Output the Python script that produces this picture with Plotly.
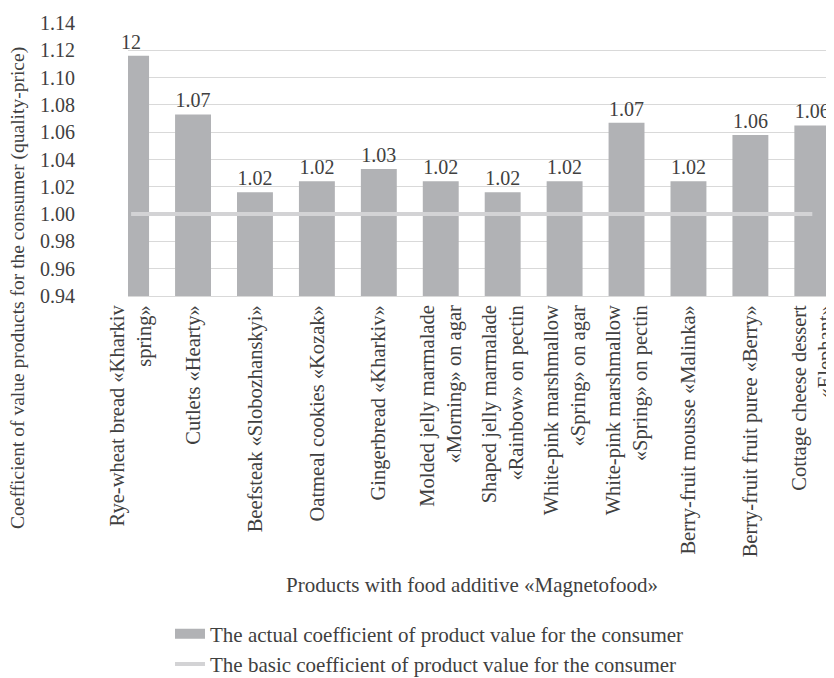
import plotly.graph_objects as go

categories = [
    "Rye-wheat bread «Kharkiv<br>spring»",
    "Cutlets «Hearty»",
    "Beefsteak «Slobozhanskyi»",
    "Oatmeal cookies «Kozak»",
    "Gingerbread «Kharkiv»",
    "Molded jelly marmalade<br>«Morning» on agar",
    "Shaped jelly marmalade<br>«Rainbow» on pectin",
    "White-pink marshmallow<br>«Spring» on agar",
    "White-pink marshmallow<br>«Spring» on pectin",
    "Berry-fruit mousse «Malinka»",
    "Berry-fruit fruit puree «Berry»",
    "Cottage cheese dessert<br>«Elephant»",
]
actual_values = [1.116, 1.073, 1.016, 1.024, 1.033, 1.024, 1.016, 1.024, 1.067, 1.024, 1.058, 1.065]
value_labels = ["12", "1.07", "1.02", "1.02", "1.03", "1.02", "1.02", "1.02", "1.07", "1.02", "1.06", "1.06"]
basic_values = [1.0] * len(categories)
y_ticks = [0.94, 0.96, 0.98, 1.00, 1.02, 1.04, 1.06, 1.08, 1.10, 1.12, 1.14]

actual_name = "The actual coefficient of product value for the consumer"
basic_name = "The basic coefficient of product value for the consumer"

FONT = "'Liberation Serif', 'Times New Roman', serif"
TXT = "#404040"
BAR_COLOR = "#b1b2b5"
LINE_COLOR = "#d3d3d5"

fig = go.Figure()
fig.add_trace(go.Bar(
    x=categories, y=actual_values,
    name=actual_name, showlegend=False,
    marker=dict(color=BAR_COLOR, line=dict(width=0)),
    width=0.58,
    text=value_labels, textposition="outside", cliponaxis=False,
    textfont=dict(family=FONT, size=20, color=TXT),
))
# legend entry for the bars (wide rectangle swatch, as in the reference)
fig.add_trace(go.Scatter(
    x=[None], y=[None], mode="lines", name=actual_name,
    line=dict(color=BAR_COLOR, width=10),
))
fig.add_trace(go.Scatter(
    x=categories, y=basic_values, mode="lines",
    name=basic_name,
    line=dict(color=LINE_COLOR, width=4),
))

fig.update_layout(
    width=826, height=670,
    margin=dict(l=120, r=0, t=15, b=382, autoexpand=False),
    plot_bgcolor="white", paper_bgcolor="white",
    font=dict(family=FONT, size=20, color=TXT),
    showlegend=True,
    legend=dict(
        orientation="v", x=0.0595, xanchor="left", y=-1.163, yanchor="top",
        font=dict(family=FONT, size=21, color=TXT),
        itemwidth=30, tracegroupgap=0, bgcolor="rgba(0,0,0,0)",
    ),
    annotations=[
        dict(text="Products with food additive «Magnetofood»", xref="paper", yref="paper",
             x=0.487, y=-1.057, xanchor="center", yanchor="middle", showarrow=False,
             font=dict(family=FONT, size=21, color=TXT)),
        dict(text="Coefficient of value products for the consumer (quality-price)",
             xref="paper", yref="paper", x=-0.156, y=0.029, textangle=-90,
             xanchor="center", yanchor="middle", showarrow=False,
             font=dict(family=FONT, size=19.5, color=TXT)),
    ],
)
fig.update_xaxes(
    type="category", range=[-0.05, 11.35], tickangle=-90, showgrid=False,
    showline=True, linecolor="#d9d9d9", linewidth=1, ticks="",
    tickfont=dict(family=FONT, size=20.5, color=TXT),
)
fig.update_yaxes(
    range=[0.94, 1.14], tickvals=y_ticks, ticktext=[f"{v:.2f}" for v in y_ticks],
    showgrid=True, gridcolor="#d9d9d9", gridwidth=1, zeroline=False,
    ticks="", ticklabelstandoff=52, showline=False,
    tickfont=dict(family=FONT, size=20, color=TXT),
)

fig.write_html("out.html")
